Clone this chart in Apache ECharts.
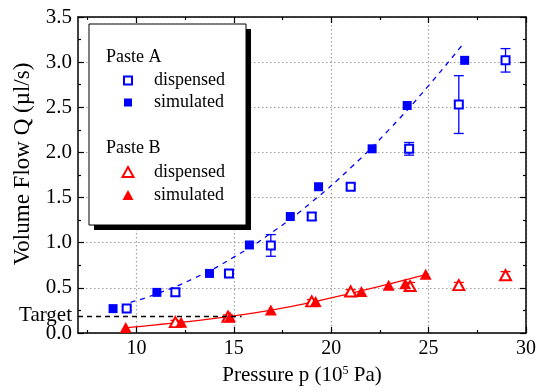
<!DOCTYPE html>
<html>
<head>
<meta charset="utf-8">
<title>Volume flow vs pressure</title>
<script src="https://cdn.jsdelivr.net/npm/echarts@6/dist/echarts.min.js"></script>
<style>
  html, body { margin: 0; padding: 0; background: #fff; }
  #main { width: 539px; height: 391px; }
</style>
</head>
<body>
<div id="main"></div>
<script type="text/javascript">
// Paste A, measured (open squares) with error bars
var aDispP = [9.5, 12.0, 14.75, 16.9, 19.0, 21.0, 24.0, 26.55, 28.95];
var aDispQ = [0.27, 0.45, 0.66, 0.97, 1.29, 1.62, 2.04, 2.53, 3.02];
var aDispErr = [0.02, 0.04, 0.04, 0.12, 0.04, 0.03, 0.07, 0.32, 0.13];
// Paste A, simulated (filled squares)
var aSimP = [8.8, 11.05, 13.75, 15.8, 17.9, 19.35, 22.1, 23.9, 26.85];
var aSimQ = [0.27, 0.45, 0.66, 0.975, 1.29, 1.62, 2.04, 2.52, 3.02];
// Paste A fit (dashed blue)
var aFitP = [9.7, 11, 13, 15, 17, 19, 21, 23, 25, 26.8];
var aFitQ = [0.34, 0.43, 0.61, 0.84, 1.12, 1.45, 1.83, 2.26, 2.74, 3.21];

// Paste B, measured (open triangles)
var bDispP = [12.0, 14.7, 19.0, 21.0, 24.05, 26.55, 28.95];
var bDispQ = [0.12, 0.18, 0.35, 0.46, 0.52, 0.53, 0.64];
var bDispErr = [0.02, 0.02, 0.02, 0.02, 0.04, 0.03, 0.04];
// Paste B, simulated (filled triangles)
var bSimP = [9.45, 12.3, 14.8, 16.9, 19.2, 21.55, 22.95, 23.8, 24.85];
var bSimQ = [0.06, 0.12, 0.18, 0.255, 0.35, 0.46, 0.53, 0.545, 0.65];
// Paste B fit (solid red)
var bFitP = [9.5, 11, 13, 15, 17, 19, 21, 23, 24.9];
var bFitQ = [0.06, 0.09, 0.135, 0.19, 0.255, 0.34, 0.44, 0.545, 0.65];

// target flow line
var targetQ = 0.19;
var targetEndP = 15.4;

var xMajor = [10, 15, 20, 25, 30];
var xMinor = [7.5, 12.5, 17.5, 22.5, 27.5];

var FONT = '"Liberation Serif", "Times New Roman", serif';
var BLUE = '#0000ff';
var RED = '#ff0000';

function pairs(xs, ys) {
    return xs.map(function (x, i) { return [x, ys[i]]; });
}
function triples(xs, ys, es) {
    return xs.map(function (x, i) { return [x, ys[i], es[i]]; });
}

function errorBars(color) {
    return function (params, api) {
        var x = api.value(0), y = api.value(1), e = api.value(2);
        var top = api.coord([x, y + e]);
        var bot = api.coord([x, y - e]);
        var w = 5;
        var st = { stroke: color, lineWidth: 1.3 };
        return {
            type: 'group',
            children: [
                { type: 'line', shape: { x1: top[0], y1: top[1], x2: bot[0], y2: bot[1] }, style: st },
                { type: 'line', shape: { x1: top[0] - w, y1: top[1], x2: top[0] + w, y2: top[1] }, style: st },
                { type: 'line', shape: { x1: bot[0] - w, y1: bot[1], x2: bot[0] + w, y2: bot[1] }, style: st }
            ]
        };
    };
}

var myChart = echarts.init(document.getElementById('main'));

function xAx(pos, ticks, len, extra) {
    var a = {
        type: 'value', min: 7, max: 30, position: pos,
        axisLine: { show: true, lineStyle: { color: '#000', width: 1.5 } },
        axisTick: { show: true, inside: true, length: len, customValues: ticks, lineStyle: { color: '#000', width: 1.2 } },
        axisLabel: { show: false },
        splitLine: { show: false }
    };
    return Object.assign(a, extra || {});
}

var option = {
    animation: false,
    grid: { left: 78, right: 12, top: 17, bottom: 58 },
    xAxis: [
        xAx('bottom', xMajor, 6, {
            name: 'Pressure p (10{sup|5} Pa)',
            nameLocation: 'middle',
            nameGap: 32,
            nameTextStyle: {
                fontFamily: FONT, fontSize: 21, color: '#000',
                rich: { sup: { fontFamily: FONT, fontSize: 12, color: '#000', padding: [0, 0, 9, 0] } }
            },
            axisLabel: { show: true, customValues: xMajor, margin: 6, fontFamily: FONT, fontSize: 20, color: '#000' },
            splitLine: { show: true, lineStyle: { color: '#a0a0a0', width: 1.2, type: [1.5, 2.5] } }
        }),
        xAx('bottom', xMinor, 3, { axisLine: { show: false } }),
        xAx('top', xMajor, 6),
        xAx('top', xMinor, 3, { axisLine: { show: false } })
    ],
    yAxis: [
        {
            type: 'value', min: 0, max: 3.5, interval: 0.5, position: 'left',
            name: 'Volume Flow Q (\u00b5l/s)',
            nameLocation: 'middle',
            nameGap: 42,
            nameTextStyle: { fontFamily: FONT, fontSize: 23, color: '#000', padding: [0, 0, 0, 22] },
            axisLine: { show: true, lineStyle: { color: '#000', width: 1.5 } },
            axisTick: { show: true, inside: true, length: 6, lineStyle: { color: '#000', width: 1.2 } },
            minorTick: { show: true, splitNumber: 2, length: 3, lineStyle: { color: '#000', width: 1.2 } },
            axisLabel: {
                margin: 6, fontFamily: FONT, fontSize: 21, color: '#000',
                formatter: function (v) { return v.toFixed(1); }
            },
            splitLine: { show: true, lineStyle: { color: '#a0a0a0', width: 1.2, type: [1.5, 2.5] } }
        },
        {
            type: 'value', min: 0, max: 3.5, interval: 0.5, position: 'right',
            axisLine: { show: true, lineStyle: { color: '#000', width: 1.5 } },
            axisTick: { show: true, inside: true, length: 6, lineStyle: { color: '#000', width: 1.2 } },
            minorTick: { show: true, splitNumber: 2, length: 3, lineStyle: { color: '#000', width: 1.2 } },
            axisLabel: { show: false },
            splitLine: { show: false }
        }
    ],
    legend: [
        {
            data: ['A dispensed', 'A simulated'],
            orient: 'vertical', left: 123, top: 70, padding: 0,
            itemWidth: 8, itemHeight: 8, itemGap: 1,
            selectedMode: false, z: 10,
            formatter: function (n) { return n.slice(2); },
            textStyle: { fontFamily: FONT, fontSize: 18, lineHeight: 21, color: '#000', padding: [0, 0, 0, 17] }
        },
        {
            data: ['B dispensed', 'B simulated'],
            orient: 'vertical', left: 121.5, top: 161.5, padding: 0,
            itemWidth: 11, itemHeight: 10, itemGap: 2,
            selectedMode: false, z: 10,
            formatter: function (n) { return n.slice(2); },
            textStyle: { fontFamily: FONT, fontSize: 18, lineHeight: 21, color: '#000', padding: [0, 0, 0, 15.5] }
        }
    ],
    graphic: [
        { type: 'rect', z: 5, shape: { x: 94, y: 29, width: 157, height: 201 }, style: { fill: '#000' } },
        { type: 'rect', z: 6, shape: { x: 89, y: 24, width: 157, height: 201 }, style: { fill: '#fff', stroke: '#000', lineWidth: 1 } },
        { type: 'text', z: 7, x: 106, y: 57, style: { text: 'Paste A', font: '18px ' + FONT, fill: '#000', verticalAlign: 'middle' } },
        { type: 'text', z: 7, x: 106, y: 148, style: { text: 'Paste B', font: '18px ' + FONT, fill: '#000', verticalAlign: 'middle' } }
    ],
    series: [
        {
            name: 'A fit', type: 'line', data: pairs(aFitP, aFitQ), smooth: true,
            showSymbol: false, silent: true,
            lineStyle: { color: BLUE, width: 1.3, type: [5, 5] }
        },
        {
            name: 'B fit', type: 'line', data: pairs(bFitP, bFitQ), smooth: true,
            showSymbol: false, silent: true,
            lineStyle: { color: RED, width: 1.3 },
            markLine: {
                silent: true, symbol: 'none',
                lineStyle: { color: '#000', width: 1.3, type: [5, 4] },
                label: { show: true, position: 'start', formatter: 'Target', distance: 6,
                         fontFamily: FONT, fontSize: 21, color: '#000' },
                data: [[{ coord: [7, targetQ] }, { coord: [targetEndP, targetQ] }]]
            }
        },
        {
            name: 'A err', type: 'custom', renderItem: errorBars(BLUE),
            data: triples(aDispP, aDispQ, aDispErr), encode: { x: 0, y: 1 }, z: 2
        },
        {
            name: 'B err', type: 'custom', renderItem: errorBars(RED),
            data: triples(bDispP, bDispQ, bDispErr), encode: { x: 0, y: 1 }, z: 2
        },
        {
            name: 'A dispensed', type: 'scatter', data: pairs(aDispP, aDispQ),
            symbol: 'emptyRect', symbolSize: 8, z: 3,
            itemStyle: { color: BLUE, borderWidth: 1.6, opacity: 1 }
        },
        {
            name: 'A simulated', type: 'scatter', data: pairs(aSimP, aSimQ),
            symbol: 'rect', symbolSize: 9, z: 3,
            itemStyle: { color: BLUE, opacity: 1 }
        },
        {
            name: 'B dispensed', type: 'scatter', data: pairs(bDispP, bDispQ),
            symbol: 'emptyTriangle', symbolSize: [11, 10], z: 3,
            itemStyle: { color: RED, borderWidth: 1.6, opacity: 1 }
        },
        {
            name: 'B simulated', type: 'scatter', data: pairs(bSimP, bSimQ),
            symbol: 'triangle', symbolSize: [12, 11], z: 3,
            itemStyle: { color: RED, opacity: 1 }
        }
    ]
};

myChart.setOption(option);
</script>
</body>
</html>
